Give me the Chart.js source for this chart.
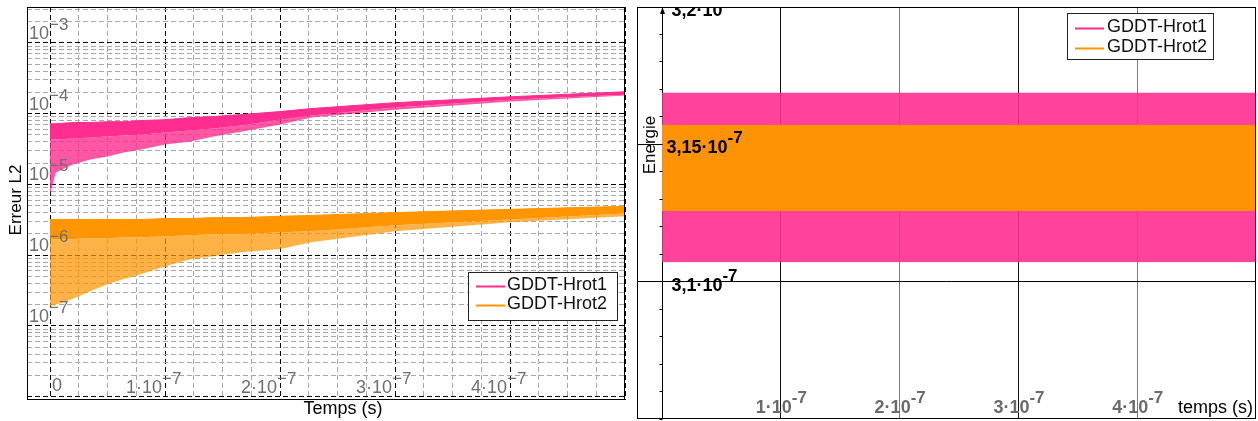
<!DOCTYPE html>
<html>
<head>
<meta charset="utf-8">
<script src="https://cdn.jsdelivr.net/npm/chart.js@4/dist/chart.umd.min.js"></script>
<style>
html,body{margin:0;padding:0;background:#fff;}
#wrap{position:relative;width:1258px;height:421px;overflow:hidden;background:#fff;}
canvas{position:absolute;top:0;}
#c1{left:0;}
#c2{left:630px;}
</style>
</head>
<body>
<div id="wrap">
<canvas id="c1" width="630" height="421"></canvas>
<canvas id="c2" width="628" height="421"></canvas>
</div>
<script>
// ---------------- DATA ----------------
const seriesNames = ['GDDT-Hrot1', 'GDDT-Hrot2'];
const seriesColors = ['#FF2D8F', '#FF9500'];

// Left panel : Erreur L2 (envelopes of the oscillating curves, time in s)
const errTimeH1 = [0, 0.05e-7, 0.2e-7, 0.35e-7, 0.5e-7, 0.64e-7, 0.79e-7, 1.0e-7, 1.22e-7, 1.42e-7, 1.66e-7, 2.0e-7, 2.27e-7, 3.0e-7, 4.0e-7, 5.0e-7];
const errMaxH1  = [7.2e-5, 7.2e-5, 7.5e-5, 7.5e-5, 7.7e-5, 7.7e-5, 8.0e-5, 8.2e-5, 8.8e-5, 9.1e-5, 9.7e-5, 1.07e-4, 1.18e-4, 1.43e-4, 1.73e-4, 2.04e-4];
const errCoreH1 = [4.3e-5, 4.3e-5, 4.45e-5, 4.6e-5, 4.75e-5, 4.9e-5, 5.05e-5, 5.4e-5, 5.8e-5, 6.15e-5, 6.8e-5, 8.2e-5, 9.4e-5, 1.22e-4, 1.57e-4, 1.85e-4];
const errMinH1  = [7.2e-6, 1.48e-5, 1.91e-5, 2.25e-5, 2.48e-5, 2.82e-5, 3.11e-5, 3.66e-5, 4.03e-5, 4.74e-5, 5.57e-5, 7.0e-5, 8.8e-5, 1.14e-4, 1.48e-4, 1.80e-4];

const errTimeH2 = [0, 0.15e-7, 0.35e-7, 0.5e-7, 0.64e-7, 0.79e-7, 1.0e-7, 1.22e-7, 1.42e-7, 1.66e-7, 2.0e-7, 2.27e-7, 3.0e-7, 4.0e-7, 5.0e-7];
const errMaxH2  = [3.2e-6, 3.2e-6, 3.2e-6, 3.2e-6, 3.2e-6, 3.2e-6, 3.3e-6, 3.3e-6, 3.4e-6, 3.4e-6, 3.55e-6, 3.65e-6, 4.0e-6, 4.45e-6, 4.9e-6];
const errCoreH2 = [1.68e-6, 1.68e-6, 1.73e-6, 1.73e-6, 1.79e-6, 1.79e-6, 1.85e-6, 1.91e-6, 1.98e-6, 1.98e-6, 2.11e-6, 2.18e-6, 2.65e-6, 3.2e-6, 3.9e-6];
const errMinH2  = [1.9e-7, 2.25e-7, 3.1e-7, 3.9e-7, 4.6e-7, 5.4e-7, 7.0e-7, 8.8e-7, 9.7e-7, 1.1e-6, 1.22e-6, 1.52e-6, 2.18e-6, 2.92e-6, 3.54e-6];

// Right panel : Energie (envelopes)
const energyTime  = [0, 1e-7, 2e-7, 3e-7, 4e-7, 5e-7];
const energyMaxH1 = [3.1686e-7, 3.1686e-7, 3.1686e-7, 3.1686e-7, 3.1686e-7, 3.1686e-7];
const energyMinH1 = [3.1073e-7, 3.1073e-7, 3.1073e-7, 3.1073e-7, 3.1073e-7, 3.1073e-7];
const energyMaxH2 = [3.1569e-7, 3.1569e-7, 3.1569e-7, 3.1569e-7, 3.1569e-7, 3.1569e-7];
const energyMinH2 = [3.1259e-7, 3.1259e-7, 3.1259e-7, 3.1259e-7, 3.1259e-7, 3.1259e-7];

// Tick labels
const errYTickExps  = [-3, -4, -5, -6, -7];
const errXTickVals  = [0, 1e-7, 2e-7, 3e-7, 4e-7];
const errXTickMain  = ['0', '1·10', '2·10', '3·10', '4·10'];
const errXTickExp   = ['', '−7', '−7', '−7', '−7'];
const energyYTickVals = [3.1e-7, 3.15e-7, 3.2e-7];
const energyYTickMain = ['3,1·10', '3,15·10', '3,2·10'];
const energyYTickExp  = ['-7', '-7', '-7'];
const energyXTickVals = [1e-7, 2e-7, 3e-7, 4e-7];
const energyXTickMain = ['1·10', '2·10', '3·10', '4·10'];
const energyXTickExp  = ['-7', '-7', '-7', '-7'];

const FONT = "'Liberation Sans', Arial, Helvetica, sans-serif";

// ---------------- HELPERS ----------------
const pts = (xs, ys) => xs.map((x, i) => ({x: x, y: ys[i]}));
const rgba = (hex, a) => {
  const n = parseInt(hex.slice(1), 16);
  return 'rgba(' + ((n >> 16) & 255) + ',' + ((n >> 8) & 255) + ',' + (n & 255) + ',' + a + ')';
};

function leftBand(label, color, tipAlpha, xs, maxs, cores, mins) {
  return [
    {label: label, data: pts(xs, maxs), borderColor: color, backgroundColor: color, borderWidth: 1, fill: '+1'},
    {label: label + ' (core)', data: pts(xs, cores), borderColor: 'rgba(0,0,0,0)', backgroundColor: rgba(color, tipAlpha), borderWidth: 0, fill: '+1'},
    {label: label + ' (min)', data: pts(xs, mins), borderColor: 'rgba(0,0,0,0)', borderWidth: 0, fill: false}
  ];
}
function rightBand(label, fillColor, xs, maxs, mins) {
  return [
    {label: label, data: pts(xs, maxs), borderColor: fillColor, backgroundColor: fillColor, borderWidth: 1, fill: '+1'},
    {label: label + ' (min)', data: pts(xs, mins), borderColor: fillColor, borderWidth: 1, fill: false}
  ];
}

function drawLegend(ctx, bx, by, bw, bh, lx1, lx2, tx, ys) {
  ctx.save();
  ctx.fillStyle = '#fff';
  ctx.fillRect(bx, by, bw, bh);
  ctx.strokeStyle = '#222';
  ctx.lineWidth = 1;
  ctx.strokeRect(bx + 0.5, by + 0.5, bw, bh);
  ctx.font = '18px ' + FONT;
  ctx.textBaseline = 'middle';
  ctx.textAlign = 'left';
  for (let i = 0; i < seriesNames.length; i++) {
    ctx.strokeStyle = seriesColors[i];
    ctx.lineWidth = 2;
    ctx.beginPath();
    ctx.moveTo(lx1, ys[i] + 0.5);
    ctx.lineTo(lx2, ys[i] + 0.5);
    ctx.stroke();
    ctx.fillStyle = '#111';
    ctx.fillText(seriesNames[i], tx, ys[i] - 1);
  }
  ctx.restore();
}

// ---------------- LEFT CHART ----------------
const errXGrid = Array.from({length: 21}, (_, i) => i * 0.25e-7);
const errYMin = Math.pow(10, -8.028), errYMax = Math.pow(10, -2.493);
const errYGrid = [];
for (let k = -9; k <= -2; k++) {
  for (let m = 1; m <= 9; m++) {
    const v = m * Math.pow(10, k);
    if (v > errYMin && v < errYMax) errYGrid.push({value: v, major: m === 1});
  }
}

const leftDecor = {
  id: 'leftDecor',
  afterDraw(chart) {
    const {ctx, chartArea: a, scales: {x, y}} = chart;
    ctx.save();
    ctx.strokeStyle = '#000';
    ctx.lineWidth = 1;
    ctx.strokeRect(a.left + 0.5, a.top + 0.5, a.right - a.left - 1, a.bottom - a.top - 1);

    // y tick labels 10^k
    ctx.fillStyle = '#6e6e6e';
    ctx.textAlign = 'left';
    ctx.textBaseline = 'alphabetic';
    errYTickExps.forEach(e => {
      const yy = y.getPixelForValue(Math.pow(10, e));
      ctx.font = '18px ' + FONT;
      ctx.fillText('10', a.left + 2, yy - 4);
      const w = ctx.measureText('10').width;
      ctx.font = '17px ' + FONT;
      ctx.fillText('−' + Math.abs(e), a.left + 2 + w, yy - 13);
    });

    // x tick labels
    errXTickVals.forEach((v, i) => {
      const xx = x.getPixelForValue(v);
      if (!errXTickExp[i]) {
        ctx.font = '18px ' + FONT;
        ctx.textAlign = 'left';
        ctx.fillText(errXTickMain[i], xx + 2, 391);
      } else {
        ctx.font = '18px ' + FONT;
        ctx.textAlign = 'right';
        ctx.fillText(errXTickMain[i], xx - 3, 393);
        ctx.font = '17px ' + FONT;
        ctx.textAlign = 'left';
        ctx.fillText(errXTickExp[i], xx - 3, 384);
      }
    });

    // axis titles
    ctx.fillStyle = '#000';
    ctx.font = '18px ' + FONT;
    ctx.textAlign = 'center';
    ctx.fillText('Temps (s)', 343, 414);
    ctx.save();
    ctx.translate(21, 200);
    ctx.rotate(-Math.PI / 2);
    ctx.font = '17px ' + FONT;
    ctx.textBaseline = 'alphabetic';
    ctx.fillText('Erreur L2', 0, 0);
    ctx.restore();

    ctx.restore();
    drawLegend(ctx, 468, 272, 149, 48, 476, 505, 507, [286, 305]);
  }
};

new Chart(document.getElementById('c1'), {
  type: 'line',
  data: {
    datasets: [
      ...leftBand(seriesNames[1], seriesColors[1], 0.72, errTimeH2, errMaxH2, errCoreH2, errMinH2),
      ...leftBand(seriesNames[0], seriesColors[0], 0.8, errTimeH1, errMaxH1, errCoreH1, errMinH1)
    ]
  },
  options: {
    responsive: false,
    animation: false,
    devicePixelRatio: 1,
    layout: {padding: {left: 27, top: 7, right: 5, bottom: 21}},
    plugins: {legend: {display: false}, tooltip: {enabled: false}},
    elements: {point: {radius: 0, hoverRadius: 0}, line: {tension: 0}},
    scales: {
      x: {
        type: 'linear', min: -0.2e-7, max: 5e-7,
        afterBuildTicks: s => { s.ticks = errXGrid.map(v => ({value: v})); },
        ticks: {display: false},
        border: {display: false, dash: [5, 3]},
        grid: {drawTicks: false, lineWidth: 1, color: c => (c.index % 4 === 0 ? '#000' : '#a8a8a8')}
      },
      y: {
        type: 'logarithmic', min: errYMin, max: errYMax,
        afterBuildTicks: s => { s.ticks = errYGrid.map(t => ({value: t.value, major: t.major})); },
        ticks: {display: false},
        border: {display: false, dash: [5, 3]},
        grid: {drawTicks: false, lineWidth: 1, color: c => (c.tick && c.tick.major ? '#000' : '#a8a8a8')}
      }
    }
  },
  plugins: [leftDecor]
});

// ---------------- RIGHT CHART ----------------
const energyXGrid = [0, 1e-7, 2e-7, 3e-7, 4e-7];
const energyXGridColors = ['#000', '#111', '#7a7a7a', '#111', '#7a7a7a'];
const energyYGrid = [3.1e-7, 3.15e-7];

const rightDecor = {
  id: 'rightDecor',
  afterDraw(chart) {
    const {ctx, chartArea: a, scales: {x, y}} = chart;
    ctx.save();
    ctx.strokeStyle = '#000';
    ctx.lineWidth = 1;
    ctx.strokeRect(a.left + 0.5, a.top + 0.5, a.right - a.left - 1, a.bottom - a.top - 1);

    const x0 = Math.round(x.getPixelForValue(0) - 0.5) + 0.5;
    ctx.fillStyle = '#000';
    ctx.beginPath();
    ctx.moveTo(x0, a.top);
    ctx.lineTo(x0 - 2.5, a.top + 7);
    ctx.lineTo(x0 + 2.5, a.top + 7);
    ctx.closePath();
    ctx.fill();
    ctx.beginPath();
    for (let i = 0; i <= 15; i++) {
      const v = 3.05e-7 + i * 0.01e-7;
      const yy = Math.round(y.getPixelForValue(v) - 0.5) + 0.5;
      ctx.moveTo(x0 - 3, yy);
      ctx.lineTo(x0, yy);
    }
    ctx.stroke();

    ctx.save();
    ctx.beginPath();
    ctx.rect(a.left, a.top, a.right - a.left, a.bottom - a.top);
    ctx.clip();
    ctx.textBaseline = 'alphabetic';
    ctx.fillStyle = '#000';
    energyYTickVals.forEach((v, i) => {
      const yy = y.getPixelForValue(v);
      ctx.font = 'bold 18px ' + FONT;
      const wm = ctx.measureText(energyYTickMain[i]).width;
      ctx.font = 'bold 17px ' + FONT;
      const we = ctx.measureText(energyYTickExp[i]).width;
      const sx = x0 + 42 - (wm + we) / 2;
      ctx.textAlign = 'left';
      ctx.font = 'bold 18px ' + FONT;
      ctx.fillText(energyYTickMain[i], sx, yy + 9);
      ctx.font = 'bold 17px ' + FONT;
      ctx.fillText(energyYTickExp[i], sx + wm, yy - 1);
    });
    ctx.fillStyle = '#6b6b6b';
    energyXTickVals.forEach((v, i) => {
      const xx = x.getPixelForValue(v);
      ctx.font = 'bold 18px ' + FONT;
      ctx.textAlign = 'right';
      ctx.fillText(energyXTickMain[i], xx + 11, 413);
      ctx.font = 'bold 17px ' + FONT;
      ctx.textAlign = 'left';
      ctx.fillText(energyXTickExp[i], xx + 11, 403);
    });
    ctx.fillStyle = '#000';
    ctx.font = '18px ' + FONT;
    ctx.textAlign = 'right';
    ctx.fillText('temps (s)', a.right - 3, 413);
    ctx.translate(a.left + 18, 145);
    ctx.rotate(-Math.PI / 2);
    ctx.font = '17px ' + FONT;
    ctx.textAlign = 'center';
    ctx.fillText('Energie', 0, 0);
    ctx.restore();

    ctx.restore();
    drawLegend(ctx, 437, 13, 146, 46, 445, 474, 477, [28, 48]);
  }
};

new Chart(document.getElementById('c2'), {
  type: 'line',
  data: {
    datasets: [
      ...rightBand(seriesNames[1], '#FF9306', energyTime, energyMaxH2, energyMinH2),
      ...rightBand(seriesNames[0], rgba(seriesColors[0], 0.9), energyTime, energyMaxH1, energyMinH1)
    ]
  },
  options: {
    responsive: false,
    animation: false,
    devicePixelRatio: 1,
    layout: {padding: {left: 7, top: 7, right: 2, bottom: 2}},
    plugins: {legend: {display: false}, tooltip: {enabled: false}},
    elements: {point: {radius: 0, hoverRadius: 0}, line: {tension: 0}},
    scales: {
      x: {
        type: 'linear', min: -0.211e-7, max: 5e-7,
        afterBuildTicks: s => { s.ticks = energyXGrid.map(v => ({value: v})); },
        ticks: {display: false},
        border: {display: false},
        grid: {drawTicks: false, lineWidth: 1, color: c => energyXGridColors[c.index] || '#000'}
      },
      y: {
        type: 'linear', min: 3.05e-7, max: 3.2e-7,
        afterBuildTicks: s => { s.ticks = energyYGrid.map(v => ({value: v})); },
        ticks: {display: false},
        border: {display: false},
        grid: {drawTicks: false, lineWidth: 1, color: '#000'}
      }
    }
  },
  plugins: [rightDecor]
});
</script>
</body>
</html>
